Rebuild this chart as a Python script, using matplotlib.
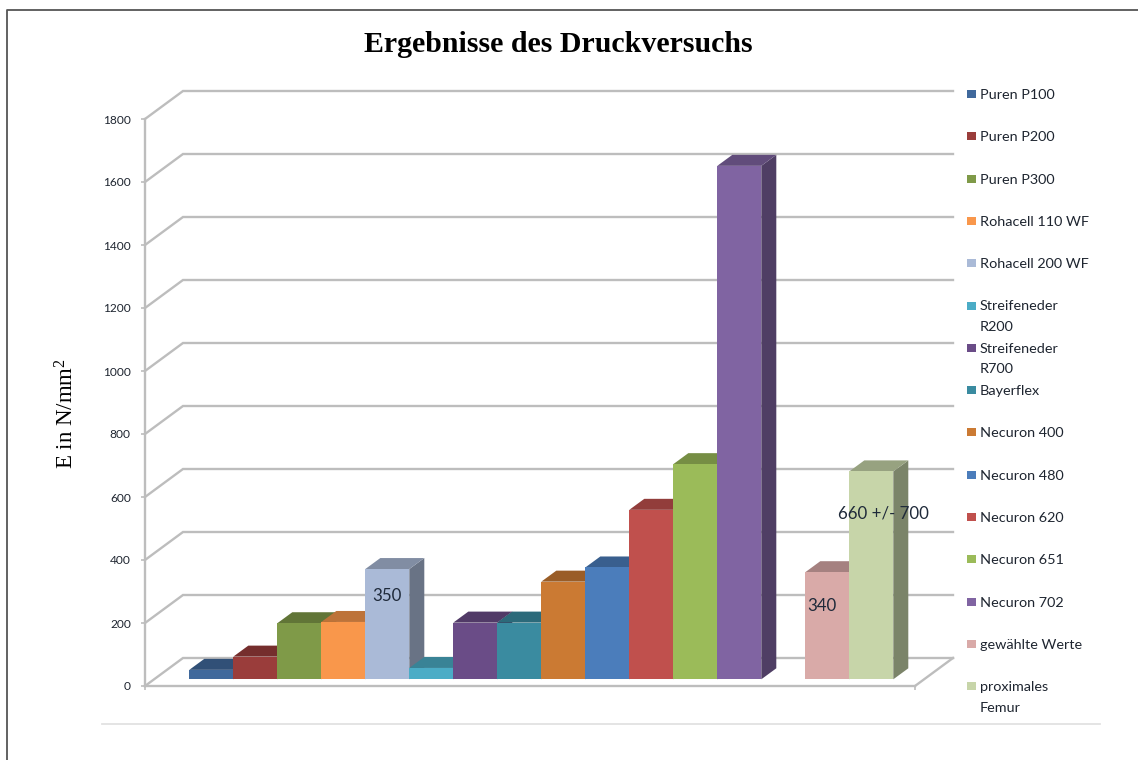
import matplotlib
matplotlib.use("Agg")
import matplotlib.pyplot as plt
from matplotlib.colors import to_rgb
from matplotlib.patches import Polygon, Rectangle
from matplotlib.lines import Line2D
from matplotlib.transforms import Affine2D

# Measured compressive moduli, one slot per material (None leaves a gap)
materials = ["Puren P100", "Puren P200", "Puren P300", "Rohacell 110 WF", "Rohacell 200 WF",
             "Streifeneder\nR200", "Streifeneder\nR700", "Bayerflex", "Necuron 400", "Necuron 480",
             "Necuron 620", "Necuron 651", "Necuron 702", "gewählte Werte", "proximales\nFemur"]
values = [30, 72, 178, 182, 350, 36, 180, 180, 310, 355, 538, 683, 1630, 340, 660]
slots = [0, 1, 2, 3, 4, 5, 6, 7, 8, 9, 10, 11, 12, 14, 15]
colors = ["#40699C", "#9A3D3B", "#7F9A48", "#F9974B", "#AABAD7", "#4BACC6", "#6A4C87", "#3A8BA0",
          "#CB7A33", "#4B7DBB", "#C0504D", "#9BBB59", "#8064A2", "#D9AAA8", "#C7D5A9"]
value_labels = {4: ("350", 0, 27), 13: ("340", -5, 34), 14: ("660 +/- 700", 12, 42)}
y_ticks = [0, 200, 400, 600, 800, 1000, 1200, 1400, 1600, 1800]

W, H = 1138, 760
GRID = "#BDBDBD"
TEXT = "#1E2530"
UI_FONT = ["Lato", "DejaVu Sans"]
plt.rcParams["mathtext.default"] = "regular"

fig = plt.figure(figsize=(W / 100, H / 100), dpi=100, facecolor="white")
# Top-left pixel coordinates for the page furniture
page = Affine2D().scale(1 / W, -1 / H).translate(0, 1) + fig.transFigure

# The axes box is the front plane of the 3D chart
left, right, top, bottom = 145, 915, 119, 686
ax = fig.add_axes([left / W, 1 - bottom / H, (right - left) / W, (bottom - top) / H])
slot_px = 44.0
ax.set_xlim(-(189.3 - left) / slot_px, (right - 189.3) / slot_px)
ax.set_ylim(0, 1800)
ax.patch.set_alpha(0)
px_per_unit = (bottom - top) / 1800

# Depth of the chart box and of the bars, expressed in data units
wall_dx, wall_dy = 38 / slot_px, 28 / px_per_unit
bar_dx, bar_dy = 15 / slot_px, 11 / px_per_unit
base = 6.7 / px_per_unit
x0, x1 = ax.get_xlim()

# Back wall gridlines with their diagonals on the side wall
for t in y_ticks:
    ax.plot([x0, x0 + wall_dx, x1 + wall_dx], [t, t + wall_dy, t + wall_dy],
            color=GRID, lw=1.7, clip_on=False, zorder=1, solid_joinstyle="miter")
ax.plot([x1, x1 + wall_dx], [0, wall_dy], color=GRID, lw=1.7, clip_on=False, zorder=1)

for side in ("top", "right"):
    ax.spines[side].set_visible(False)
for side in ("left", "bottom"):
    ax.spines[side].set_color(GRID)
    ax.spines[side].set_linewidth(1.7)
    ax.spines[side].set_zorder(1)
ax.set_yticks(y_ticks)
ax.set_xticks([x0, x1])
ax.set_xticklabels([])
ax.tick_params(axis="both", color=GRID, width=1.2, length=3.2)
ax.tick_params(axis="y", pad=7, labelcolor=TEXT)
for lab in ax.get_yticklabels():
    lab.set_fontfamily(UI_FONT)
    lab.set_fontsize(8.6)


def shade(color, factor):
    return tuple(c * factor for c in to_rgb(color))


# Bars, painted left to right so each one covers its neighbour's side face
for i, (s, v, c) in enumerate(zip(slots, values, colors)):
    z = 3 + i
    ax.bar(s, v, width=1, bottom=base, align="edge", color=c, lw=0, zorder=z + 0.2, clip_on=False)
    t = base + v
    ax.add_patch(Polygon([(s, t), (s + 1, t), (s + 1 + bar_dx, t + bar_dy), (s + bar_dx, t + bar_dy)],
                         closed=True, fc=shade(c, 0.76), lw=0, zorder=z + 0.1, clip_on=False))
    ax.add_patch(Polygon([(s + 1, base), (s + 1 + bar_dx, base + bar_dy),
                          (s + 1 + bar_dx, t + bar_dy), (s + 1, t)],
                         closed=True, fc=shade(c, 0.62), lw=0, zorder=z, clip_on=False))

# Value labels sit a fixed distance below their bar tops
for i, (label, dx, dy) in value_labels.items():
    ax.annotate(label, xy=(slots[i] + 0.5, base + values[i]),
                xytext=(dx * 0.72, -dy * 0.72), textcoords="offset points",
                ha="center", va="center", fontsize=12.2, color="#1F2A3A",
                family=UI_FONT, zorder=40)

# Title and value axis caption
fig.text(558 / W, 1 - 45 / H, "Ergebnisse des Druckversuchs", ha="center", va="center",
         family="Liberation Serif", fontweight="bold", fontsize=21.5, color="black")
fig.text(67 / W, 1 - 414 / H, "E in N/mm$^{2}$", rotation=90, ha="center", va="center",
         family="Liberation Serif", fontsize=16.5, color="black")

# Legend column: one row per material at an even spacing
for i, (name, c) in enumerate(zip(materials, colors)):
    y = 94 + 42.3 * i
    fig.add_artist(Rectangle((967, y - 4), 9, 8, transform=page, fc=c, lw=0))
    fig.text(980 / W, 1 - (y + 5) / H, name.split("\n")[0], family=UI_FONT, fontsize=10.4,
             color=TEXT, ha="left", va="baseline")
    if "\n" in name:
        fig.text(980 / W, 1 - (y + 25.5) / H, name.split("\n")[1], family=UI_FONT, fontsize=10.4,
                 color=TEXT, ha="left", va="baseline")

# Page frame and the rule under the chart
fig.add_artist(Line2D([7, 7, W], [H, 10, 10], transform=page, color="#555555", lw=1.3))
fig.add_artist(Line2D([102, 1100], [724, 724], transform=page, color="#E2E2E2", lw=1.3))

fig.savefig("out.png", dpi=100)
